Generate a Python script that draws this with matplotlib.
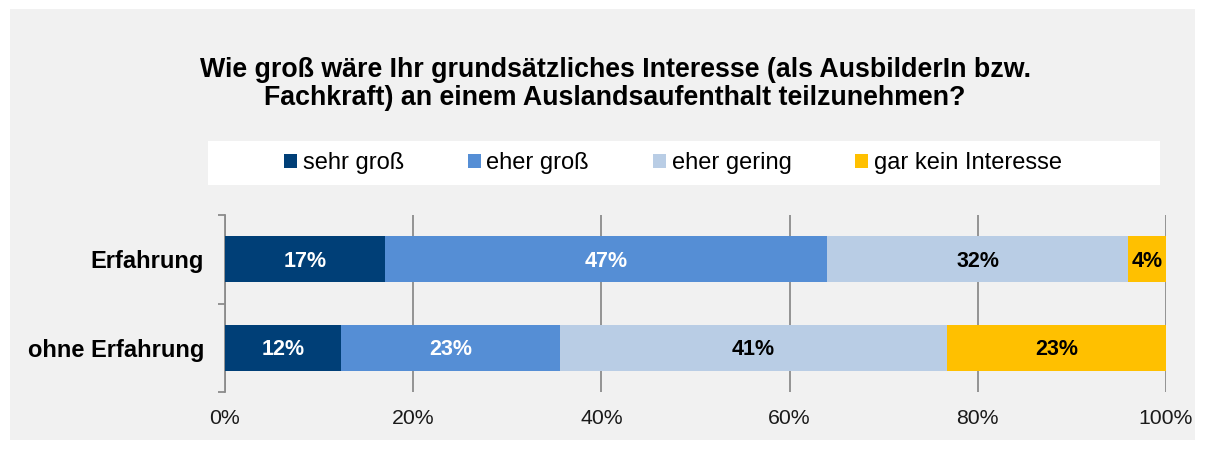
import matplotlib.pyplot as plt
from matplotlib.patches import Rectangle, Patch

plt.rcParams['font.family'] = ['Liberation Sans', 'DejaVu Sans']

groups = ['ohne Erfahrung', 'Erfahrung']
series = ['sehr groß', 'eher groß', 'eher gering', 'gar kein Interesse']
values = {
    'sehr groß': [12.3, 17.0],
    'eher groß': [23.3, 47.0],
    'eher gering': [41.1, 32.0],
    'gar kein Interesse': [23.3, 4.0],
}
colors = ['#003f77', '#558ed5', '#b9cde5', '#ffc000']
label_colors = ['white', 'white', 'black', 'black']
xticks = [0, 20, 40, 60, 80, 100]

fig = plt.figure(figsize=(12.05, 4.49), dpi=100)
fig.patch.set_facecolor('white')
fig.add_artist(Rectangle((10 / 1205, 9 / 449), 1185 / 1205, 431 / 449,
                         transform=fig.transFigure, facecolor='#f1f1f1',
                         edgecolor='none', zorder=0))
fig.add_artist(Rectangle((208 / 1205, 1 - 185 / 449), 952 / 1205, 44 / 449,
                         transform=fig.transFigure, facecolor='white',
                         edgecolor='none', zorder=1))

ax = fig.add_axes([225 / 1205, 1 - 392 / 449, 941 / 1205, 177 / 449])
ax.set_facecolor('none')

ypos = list(range(len(groups)))
left = [0.0] * len(groups)
for name, col, tcol in zip(series, colors, label_colors):
    vals = values[name]
    ax.barh(ypos, vals, left=left, height=0.52, color=col, zorder=3)
    for y, l, v in zip(ypos, left, vals):
        ax.text(l + v / 2, y - 0.02, '{}%'.format(round(v)), ha='center', va='center',
                color=tcol, fontsize=15.5, fontweight='bold', zorder=4)
    left = [a + b for a, b in zip(left, vals)]

ax.set_xlim(0, 100)
ax.set_ylim(-0.5, 1.5)
ax.set_xticks(xticks)
ax.set_xticklabels(['{}%'.format(t) for t in xticks], fontsize=15.3)
ax.xaxis.grid(True, color='#8c8c8c', linewidth=1.3, zorder=1)
ax.tick_params(axis='x', length=0, pad=12, colors='#1a1a1a')
ax.set_yticks(ypos)
ax.set_yticklabels(groups, fontsize=17, fontweight='bold')
ax.tick_params(axis='y', which='major', length=0, pad=15)
ax.set_yticks([-0.5, 0.5, 1.5], minor=True)
ax.tick_params(axis='y', which='minor', length=5, width=1.3, color='#8c8c8c')
for s in ['top', 'right', 'bottom']:
    ax.spines[s].set_visible(False)
ax.spines['left'].set_color('#8c8c8c')
ax.spines['left'].set_linewidth(1.3)

fig.text(615 / 1205, 1 - 84 / 449,
         'Wie groß wäre Ihr grundsätzliches Interesse (als AusbilderIn bzw.\n'
         'Fachkraft) an einem Auslandsaufenthalt teilzunehmen?',
         ha='center', va='center', fontsize=19.3, fontweight='bold',
         linespacing=1.08)

handles = [Patch(facecolor=c, edgecolor='none') for c in colors]
fig.legend(handles, series, loc='center', bbox_to_anchor=(673 / 1205, 1 - 163 / 449),
           ncol=4, frameon=False, fontsize=17, handlelength=0.55,
           handleheight=0.55, handletextpad=0.25, columnspacing=2.7)

fig.savefig('out.png', dpi=100)
